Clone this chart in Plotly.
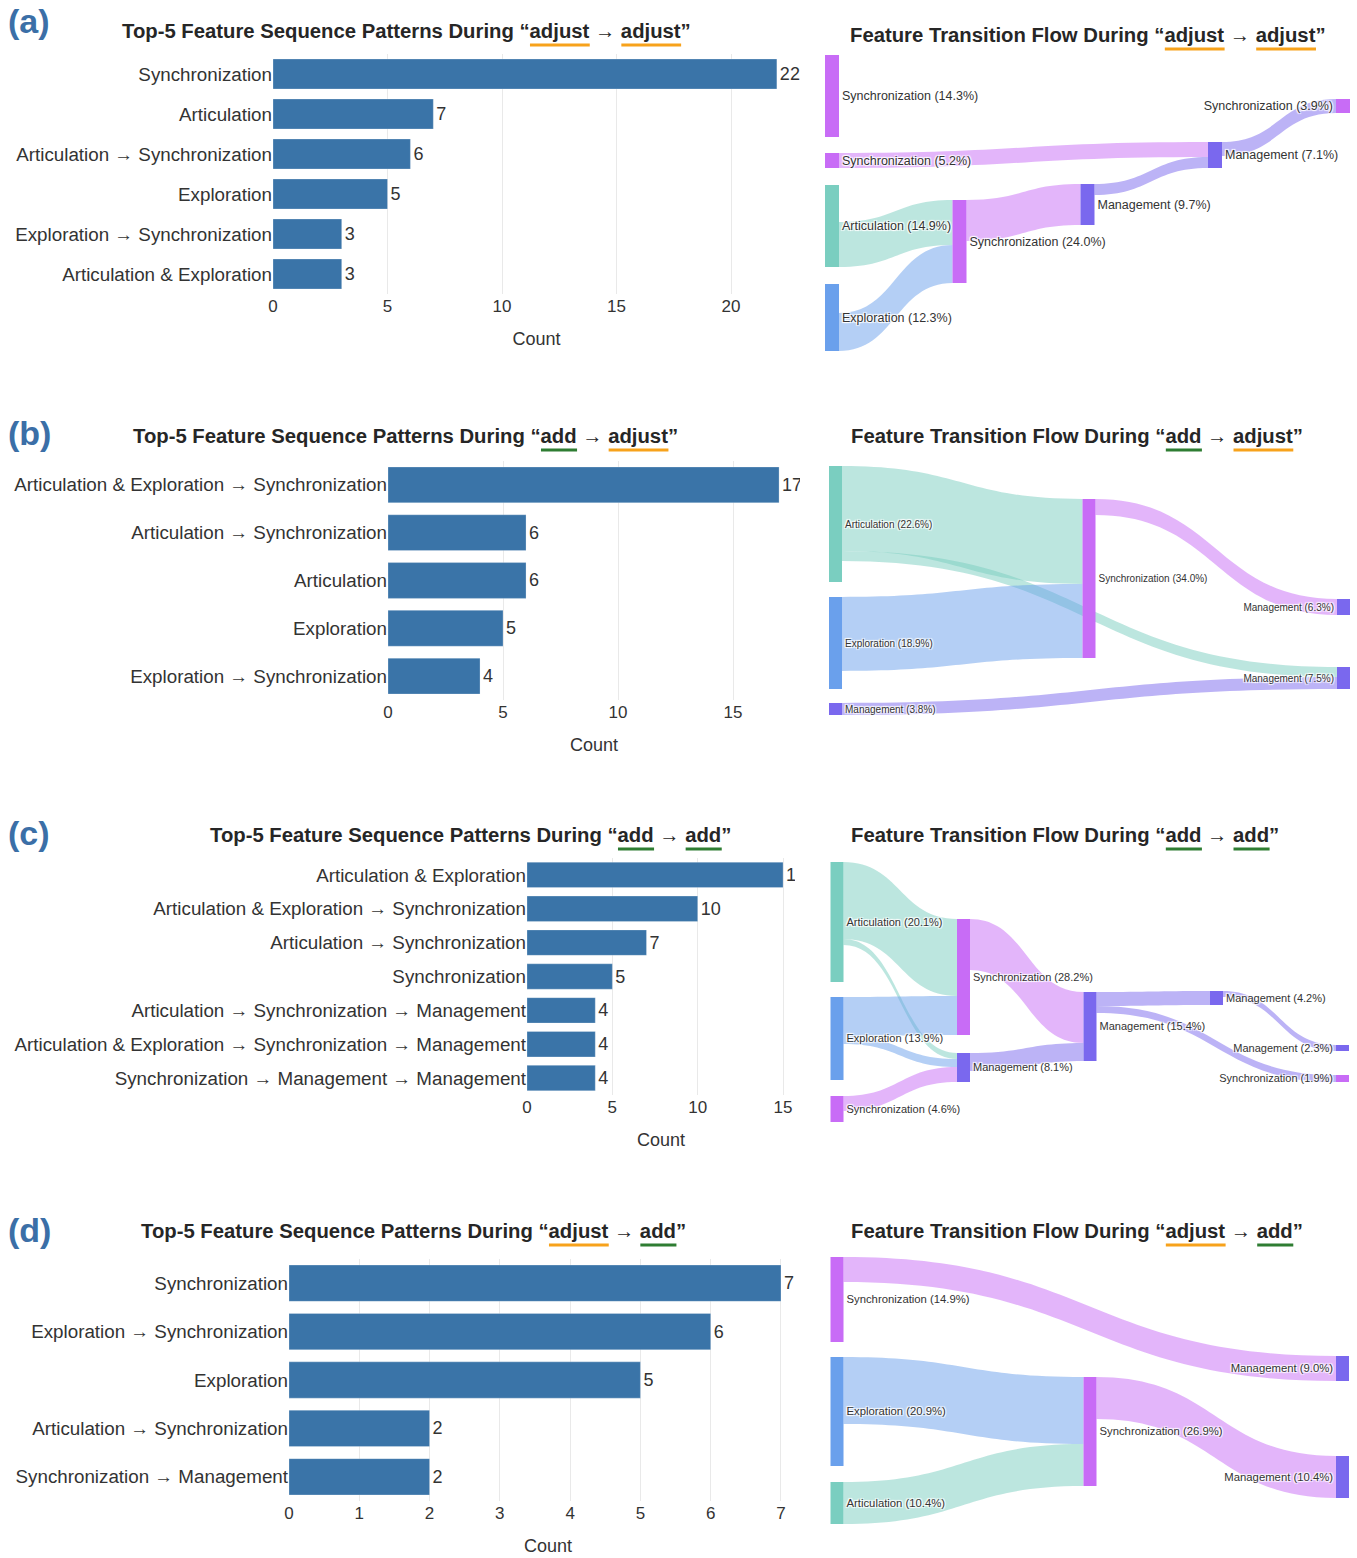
import plotly.graph_objects as go

FIG_W, FIG_H = 1357, 1558
FONT = "Liberation Sans, Arial, Helvetica, sans-serif"
TEXT = "#333333"
TITLE_COLOR = "#262626"
BAR_COLOR = "#3a74a8"
PANEL_COLOR = "#3b6fa7"
ORANGE = "#F7A21B"
GREEN = "#2E7D32"
FEATURE_COLORS = {
    "Articulation": "#7ACEC0",
    "Exploration": "#6AA0EC",
    "Synchronization": "#C86CF6",
    "Management": "#7A68EE",
}

# ---------------- bar chart data ----------------
A_CATS = ["Synchronization", "Articulation", "Articulation → Synchronization",
          "Exploration", "Exploration → Synchronization", "Articulation & Exploration"]
A_COUNTS = [22, 7, 6, 5, 3, 3]

B_CATS = ["Articulation & Exploration → Synchronization", "Articulation → Synchronization",
          "Articulation", "Exploration", "Exploration → Synchronization"]
B_COUNTS = [17, 6, 6, 5, 4]

C_CATS = ["Articulation & Exploration", "Articulation & Exploration → Synchronization",
          "Articulation → Synchronization", "Synchronization",
          "Articulation → Synchronization → Management",
          "Articulation & Exploration → Synchronization → Management",
          "Synchronization → Management → Management"]
C_COUNTS = [15, 10, 7, 5, 4, 4, 4]

D_CATS = ["Synchronization", "Exploration → Synchronization", "Exploration",
          "Articulation → Synchronization", "Synchronization → Management"]
D_COUNTS = [7, 6, 5, 2, 2]

# ---------------- sankey data ----------------
# (a) adjust -> adjust
SA_LABELS = ["Synchronization (14.3%)", "Synchronization (5.2%)", "Articulation (14.9%)",
             "Exploration (12.3%)", "Synchronization (24.0%)", "Management (9.7%)",
             "Management (7.1%)", "Synchronization (3.9%)"]
SA_FEATURES = ["Synchronization", "Synchronization", "Articulation", "Exploration",
               "Synchronization", "Management", "Management", "Synchronization"]
SA_SOURCE = [1, 2, 3, 4, 5, 6]
SA_TARGET = [6, 4, 4, 5, 6, 7]
SA_VALUE = [15, 45, 38, 41, 11, 14]
SA_UNSHOWN = [82, 0, 37, 29, 42, 30, 12, 0]   # outflow not drawn

# (b) add -> adjust
SB_LABELS = ["Articulation (22.6%)", "Exploration (18.9%)", "Management (3.8%)",
             "Synchronization (34.0%)", "Management (6.3%)", "Management (7.5%)"]
SB_FEATURES = ["Articulation", "Exploration", "Management", "Synchronization",
               "Management", "Management"]
SB_SOURCE = [0, 0, 1, 3, 2]
SB_TARGET = [3, 5, 3, 4, 5]
SB_VALUE = [85, 10, 74, 16, 12]
SB_UNSHOWN = [21, 18, 0, 143, 0, 0]

# (c) add -> add
SC_LABELS = ["Articulation (20.1%)", "Exploration (13.9%)", "Synchronization (4.6%)",
             "Synchronization (28.2%)", "Management (8.1%)", "Management (15.4%)",
             "Management (4.2%)", "Management (2.3%)", "Synchronization (1.9%)"]
SC_FEATURES = ["Articulation", "Exploration", "Synchronization", "Synchronization",
               "Management", "Management", "Management", "Management", "Synchronization"]
SC_SOURCE = [0, 0, 1, 1, 2, 3, 4, 5, 5, 6]
SC_TARGET = [3, 4, 3, 4, 4, 5, 5, 6, 8, 7]
SC_VALUE = [77, 6, 39, 8, 15, 51, 18, 14, 7, 6]
SC_UNSHOWN = [37, 36, 11, 65, 11, 48, 8, 0, 0]

# (d) adjust -> add
SD_LABELS = ["Synchronization (14.9%)", "Exploration (20.9%)", "Articulation (10.4%)",
             "Synchronization (26.9%)", "Management (9.0%)", "Management (10.4%)"]
SD_FEATURES = ["Synchronization", "Exploration", "Articulation", "Synchronization",
               "Management", "Management"]
SD_SOURCE = [0, 1, 2, 3]
SD_TARGET = [4, 3, 3, 5]
SD_VALUE = [25, 67, 42, 42]
SD_UNSHOWN = [60, 42, 0, 67, 0, 0]


def fx(p):
    return p / FIG_W


def fy(p):
    return 1 - p / FIG_H


def rgba(hexc, a):
    h = hexc.lstrip("#")
    r, g, b = int(h[0:2], 16), int(h[2:4], 16), int(h[4:6], 16)
    return f"rgba({r},{g},{b},{a})"


fig = go.Figure()

# ---------------- bar panels ----------------
BAR_PANELS = [
    dict(cats=A_CATS, counts=A_COUNTS, dx=(273, 800), dy=(54, 294), rng=23.01, dtick=5),
    dict(cats=B_CATS, counts=B_COUNTS, dx=(388, 800), dy=(461, 700), rng=17.91, dtick=5),
    dict(cats=C_CATS, counts=C_COUNTS, dx=(527, 795), dy=(858, 1095), rng=15.7, dtick=5),
    dict(cats=D_CATS, counts=D_COUNTS, dx=(289, 807), dy=(1259, 1501), rng=7.37, dtick=1),
]

layout_axes = {}
for i, p in enumerate(BAR_PANELS):
    sfx = "" if i == 0 else str(i + 1)
    fig.add_trace(go.Bar(
        x=p["counts"], y=p["cats"], orientation="h",
        marker=dict(color=BAR_COLOR, line=dict(color="rgba(255,255,255,0.5)", width=0.5)),
        text=[str(c) for c in p["counts"]], textposition="outside",
        textfont=dict(size=18, color=TEXT, family=FONT),
        cliponaxis=True, showlegend=False,
        xaxis="x" + sfx, yaxis="y" + sfx,
    ))
    layout_axes["xaxis" + sfx] = dict(
        domain=[fx(p["dx"][0]), fx(p["dx"][1])], range=[0, p["rng"]], anchor="y" + sfx,
        dtick=p["dtick"], tick0=0, showgrid=True, gridcolor="#e9e9e9", gridwidth=1,
        zeroline=False, showline=False, ticks="", automargin=False,
        tickfont=dict(size=17, color=TEXT, family=FONT),
        title=dict(text="Count", font=dict(size=18, color=TEXT, family=FONT), standoff=17),
    )
    layout_axes["yaxis" + sfx] = dict(
        domain=[fy(p["dy"][1]), fy(p["dy"][0])], anchor="x" + sfx,
        autorange="reversed", showgrid=False, zeroline=False, showline=False, ticks="",
        automargin=False,
        tickfont=dict(size=18.8, color=TEXT, family=FONT),
    )

# ---------------- sankey panels ----------------
SANKEY_PANELS = [
    dict(labels=SA_LABELS, features=SA_FEATURES, source=SA_SOURCE, target=SA_TARGET,
         value=SA_VALUE, unshown=SA_UNSHOWN,
         side=["up", "down", "up", "up", "down", "down", "down", "down"],
         x=[832, 832, 832, 832, 959.5, 1087.5, 1215, 1343],
         top=[55, 153, 185, 284, 200, 184, 142, 99],
         dy=(55, 351), thick=14, fsize=12.5),
    dict(labels=SB_LABELS, features=SB_FEATURES, source=SB_SOURCE, target=SB_TARGET,
         value=SB_VALUE, unshown=SB_UNSHOWN, side=["down"] * 6,
         x=[835.5, 835.5, 835.5, 1089, 1343.5, 1343.5],
         top=[466, 597, 703, 499, 599, 667],
         dy=(466, 715), thick=13, fsize=10),
    dict(labels=SC_LABELS, features=SC_FEATURES, source=SC_SOURCE, target=SC_TARGET,
         value=SC_VALUE, unshown=SC_UNSHOWN, side=["down"] * 9,
         x=[837, 837, 837, 963.5, 963.5, 1090, 1216.5, 1342.5, 1342.5],
         top=[862, 997, 1096, 919, 1053, 992, 991, 1045, 1075],
         dy=(862, 1122), thick=13, fsize=11),
    dict(labels=SD_LABELS, features=SD_FEATURES, source=SD_SOURCE, target=SD_TARGET,
         value=SD_VALUE, unshown=SD_UNSHOWN, side=["down"] * 6,
         x=[837, 837, 837, 1090, 1342.5, 1342.5],
         top=[1257, 1357, 1482, 1377, 1356, 1456],
         dy=(1257, 1524), thick=13, fsize=11.3),
]


def layers_of(n, src, tgt):
    out = [[] for _ in range(n)]
    for s, t in zip(src, tgt):
        out[s].append(t)
    depth = [0] * n
    current = list(range(n))
    x = 0
    while current:
        nxt = []
        for node in current:
            depth[node] = x
            for t in out[node]:
                if t not in nxt:
                    nxt.append(t)
        current = nxt
        x += 1
    nl = x
    return [depth[i] if out[i] else nl - 1 for i in range(n)], nl


for sp in SANKEY_PANELS:
    n = len(sp["labels"])
    labels = list(sp["labels"])
    ncolors = [FEATURE_COLORS[f] for f in sp["features"]]
    src, tgt, val = list(sp["source"]), list(sp["target"]), list(sp["value"])
    lcolors = [rgba(FEATURE_COLORS[sp["features"][s]], 0.5) for s in src]
    vin, vout = [0] * n, [0] * n
    for s, t, v in zip(src, tgt, val):
        vout[s] += v
        vin[t] += v
    for i, u in enumerate(sp["unshown"]):
        vout[i] += u
    nval = [max(a, b) for a, b in zip(vin, vout)]
    xc = list(sp["x"])
    yc = [sp["top"][i] + nval[i] / 2 for i in range(n)]
    y0d, y1d = sp["dy"]
    Hd = y1d - y0d
    midx = (min(xc) + max(xc)) / 2
    # hidden remainder flows (drawn transparent)
    for i, u in enumerate(sp["unshown"]):
        if u <= 0:
            continue
        k = len(labels)
        labels.append("")
        ncolors.append("rgba(0,0,0,0)")
        xc.append(midx)
        yc.append(y0d - 3 - u / 2 if sp["side"][i] == "up" else y1d + 3 + u / 2)
        nval.append(u)
        src.append(i); tgt.append(k); val.append(u); lcolors.append("rgba(0,0,0,0)")
    # calibrate scale so that 1 unit == 1 px
    lay, nl = layers_of(len(labels), src, tgt)
    sums = [0.0] * nl
    for i, L in enumerate(lay):
        sums[L] += nval[i]
    d = Hd - max(sums[0], sums[-1])
    if d > 0.01:
        k = len(labels)
        labels += ["", ""]
        ncolors += ["rgba(0,0,0,0)", "rgba(0,0,0,0)"]
        xc += [min(xc), max(sp["x"])]
        yc += [y1d + 400, y1d + 400]
        src.append(k); tgt.append(k + 1); val.append(d); lcolors.append("rgba(0,0,0,0)")
    x0d, x1d = min(sp["x"]) - 0.5, max(sp["x"])
    Wd = x1d - x0d
    nx = [max((v - x0d) / Wd, 0.001) for v in xc]
    ny = [(v - y0d) / Hd for v in yc]
    fig.add_trace(go.Sankey(
        domain=dict(x=[fx(x0d), fx(x1d)], y=[fy(y1d), fy(y0d)]),
        arrangement="fixed",
        node=dict(label=labels, color=ncolors, pad=0, thickness=sp["thick"],
                  line=dict(width=0), x=nx, y=ny),
        link=dict(source=src, target=tgt, value=val, color=lcolors),
        textfont=dict(size=sp["fsize"], color=TEXT, family=FONT),
    ))

# ---------------- titles with underlines ----------------
ARIAL_BOLD = {' ': 278, '“': 500, '”': 500, '-': 333, '5': 556, '→': 1000, 'T': 611,
              'o': 611, 'p': 611, 'F': 611, 'e': 556, 'a': 556, 't': 333, 'u': 611,
              'r': 389, 'S': 667, 'q': 611, 'n': 611, 'c': 556, 'P': 667, 's': 556,
              'D': 722, 'i': 278, 'g': 611, 'd': 611, 'j': 278, 'l': 278, 'w': 778}
TSIZE = 20.3


def tw(s):
    return sum(ARIAL_BOLD.get(ch, 556) for ch in s) * TSIZE / 1000


LEFT_PREFIX = "Top-5 Feature Sequence Patterns During "
RIGHT_PREFIX = "Feature Transition Flow During "
TITLES = [
    (120.5, 31, LEFT_PREFIX, "adjust", "adjust"), (849, 35, RIGHT_PREFIX, "adjust", "adjust"),
    (131.5, 436, LEFT_PREFIX, "add", "adjust"), (850, 436, RIGHT_PREFIX, "add", "adjust"),
    (208.5, 835, LEFT_PREFIX, "add", "add"), (850, 835, RIGHT_PREFIX, "add", "add"),
    (139.5, 1231, LEFT_PREFIX, "adjust", "add"), (850, 1231, RIGHT_PREFIX, "adjust", "add"),
]
WORD_COLOR = {"adjust": ORANGE, "add": GREEN}

annotations = []
shapes = []
for xs, ycen, pre, w1, w2 in TITLES:
    txt = pre + "“" + w1 + " → " + w2 + "”"
    annotations.append(dict(
        text="<b>" + txt + "</b>", x=fx(xs), y=fy(ycen), xref="paper", yref="paper",
        xanchor="left", yanchor="middle", showarrow=False, borderpad=0,
        font=dict(size=TSIZE, color=TITLE_COLOR, family=FONT)))
    s1 = xs + tw(pre + "“")
    e1 = s1 + tw(w1)
    s2 = xs + tw(pre + "“" + w1 + " → ")
    e2 = s2 + tw(w2)
    uy = ycen + 14
    for a, b, w in [(s1, e1, w1), (s2, e2, w2)]:
        shapes.append(dict(type="line", xref="paper", yref="paper", x0=fx(a), x1=fx(b),
                           y0=fy(uy), y1=fy(uy), line=dict(color=WORD_COLOR[w], width=3)))

for lab, ycen in [("(a)", 21), ("(b)", 433), ("(c)", 833), ("(d)", 1230)]:
    annotations.append(dict(
        text="<b>" + lab + "</b>", x=fx(6), y=fy(ycen), xref="paper", yref="paper",
        xanchor="left", yanchor="middle", showarrow=False,
        font=dict(size=34, color=PANEL_COLOR, family=FONT)))

fig.update_layout(
    width=FIG_W, height=FIG_H, margin=dict(l=0, r=0, t=0, b=0, autoexpand=False),
    paper_bgcolor="white", plot_bgcolor="white", bargap=0.25,
    font=dict(family=FONT, color=TEXT), showlegend=False,
    annotations=annotations, shapes=shapes, **layout_axes,
)

fig.write_html("out.html")
